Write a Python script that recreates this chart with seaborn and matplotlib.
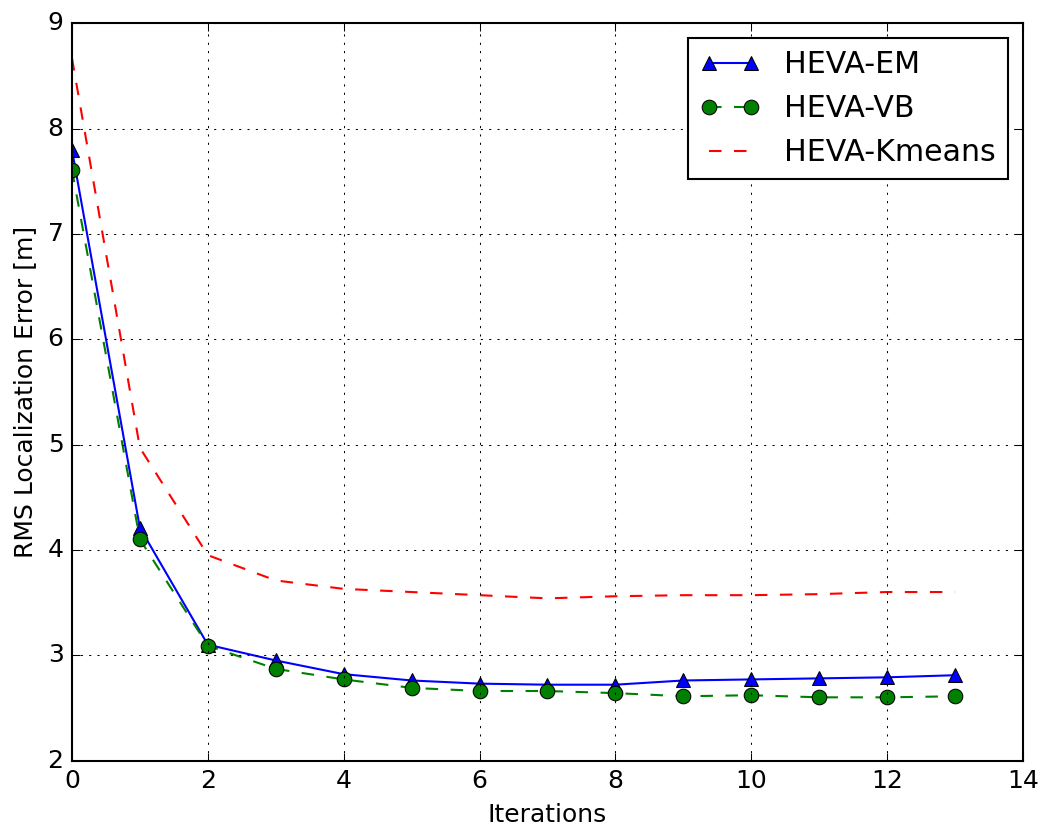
import matplotlib as mpl
mpl.use('Agg')
import matplotlib.pyplot as plt
import seaborn as sns
import numpy as np

iterations = np.arange(14)
heva_em = [7.80, 4.21, 3.10, 2.95, 2.82, 2.76, 2.73, 2.72, 2.72, 2.76, 2.77, 2.78, 2.79, 2.81]
heva_vb = [7.61, 4.10, 3.09, 2.87, 2.77, 2.69, 2.66, 2.66, 2.64, 2.61, 2.62, 2.60, 2.60, 2.61]
heva_kmeans = [8.67, 4.97, 3.95, 3.71, 3.63, 3.60, 3.57, 3.54, 3.56, 3.57, 3.57, 3.58, 3.60, 3.60]

plt.style.use('classic')
plt.rcParams['font.family'] = ['DejaVu Sans']

fig = plt.figure(figsize=(1052 / 150, 827 / 150), dpi=150, facecolor='white')
ax = fig.add_axes([0.0684, 0.0804, 0.904, 0.8913])

sns.lineplot(x=iterations, y=heva_em, ax=ax, color='b', linestyle='-', marker='^',
             markersize=7, markeredgecolor='k', markeredgewidth=0.5, label='HEVA-EM')
sns.lineplot(x=iterations, y=heva_vb, ax=ax, color='g', linestyle='--', marker='o',
             markersize=7, markeredgecolor='k', markeredgewidth=0.5, label='HEVA-VB')
sns.lineplot(x=iterations, y=heva_kmeans, ax=ax, color='r', linestyle='--', label='HEVA-Kmeans')

ax.set_xlim(0, 14)
ax.set_ylim(2, 9)
ax.set_xlabel('Iterations')
ax.set_ylabel('RMS Localization Error [m]')
ax.grid(True)
ax.legend(loc='upper right', numpoints=2, fontsize=14.4)

fig.savefig('out.png', dpi=150, facecolor='white')
